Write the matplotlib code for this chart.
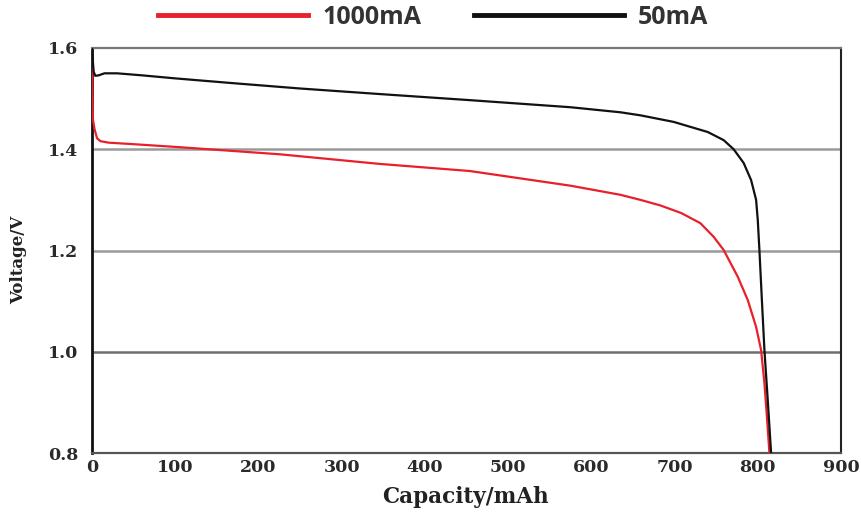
import matplotlib
matplotlib.use("Agg")
import matplotlib.pyplot as plt

# Data
cap_50 = [0, 1, 2, 4, 8, 15, 30, 60, 100, 166, 250, 346, 454, 575, 635, 659, 699,
          740, 759, 771, 783, 792, 798, 800, 802, 805, 808, 812, 816]
v_50 = [1.600, 1.575, 1.553, 1.545, 1.546, 1.550, 1.550, 1.546, 1.540, 1.531, 1.520,
        1.509, 1.497, 1.483, 1.473, 1.467, 1.454, 1.434, 1.418, 1.400, 1.373, 1.339,
        1.300, 1.260, 1.200, 1.100, 1.003, 0.904, 0.800]

cap_1000 = [0, 0.5, 1, 3, 6, 10, 20, 50, 106, 226, 346, 454, 575, 635, 659, 683,
            708, 731, 747, 759, 776, 788, 798, 804, 808, 811, 814]
v_1000 = [1.57, 1.52, 1.46, 1.44, 1.422, 1.416, 1.413, 1.410, 1.404, 1.390, 1.371,
          1.357, 1.328, 1.310, 1.300, 1.289, 1.274, 1.254, 1.227, 1.201, 1.148, 1.102,
          1.049, 1.003, 0.938, 0.871, 0.800]

series_labels = ["1000mA", "50mA"]
x_ticks = [0, 100, 200, 300, 400, 500, 600, 700, 800, 900]
y_ticks = [0.8, 1.0, 1.2, 1.4, 1.6]

SERIF = "DejaVu Serif"

fig = plt.figure(figsize=(8.62, 5.17), dpi=100)
ax = fig.add_axes([92/862, 1 - 453/517, (841 - 92)/862, (453 - 48)/517])

for y, c in zip(y_ticks[1:-1], ["#6e6e6e", "#9a9a9a", "#9a9a9a"]):
    ax.axhline(y, color=c, lw=1.8, zorder=1)

l1, = ax.plot(cap_1000, v_1000, color="#e8202a", lw=1.6, zorder=3,
              solid_joinstyle="round", label=series_labels[0])
l2, = ax.plot(cap_50, v_50, color="#111111", lw=1.6, zorder=4,
              solid_joinstyle="round", label=series_labels[1])

ax.set_xlim(0, 900)
ax.set_ylim(0.8, 1.6)
ax.set_xticks(x_ticks)
ax.set_yticks(y_ticks)
ax.set_yticklabels([f"{v:.1f}" for v in y_ticks])
ax.tick_params(length=0, labelsize=12.5)
ax.tick_params(axis="y", pad=10)
ax.tick_params(axis="x", pad=4)
for lab in ax.get_xticklabels() + ax.get_yticklabels():
    lab.set_fontfamily(SERIF)
    lab.set_fontweight("bold")
    lab.set_color("#2a2a2a")

ax.spines["left"].set_color("#111111")
ax.spines["left"].set_linewidth(2.0)
ax.spines["right"].set_color("#222222")
ax.spines["right"].set_linewidth(1.5)
ax.spines["top"].set_color("#777777")
ax.spines["top"].set_linewidth(1.6)
ax.spines["bottom"].set_color("#555555")
ax.spines["bottom"].set_linewidth(1.6)

fig.text(19/862, 1 - 260/517, "Voltage/V", rotation=90, ha="center", va="center",
         fontfamily=SERIF, fontweight="bold", fontsize=12, color="#222222")
fig.text(465/862, 1 - 497/517, "Capacity/mAh", ha="center", va="center",
         fontfamily=SERIF, fontweight="bold", fontsize=15.5, color="#222222")

leg = fig.legend(handles=[l1, l2], loc="center", bbox_to_anchor=(433/862, 1 - 17/517),
                 ncol=2, frameon=False, handlelength=6.0, handletextpad=0.55,
                 columnspacing=2.1,
                 prop={"family": "Open Sans", "weight": "bold", "size": 18})
for h in leg.legend_handles:
    h.set_linewidth(3.5)
for t in leg.get_texts():
    t.set_color("#333333")

fig.savefig("out.png", dpi=100)
